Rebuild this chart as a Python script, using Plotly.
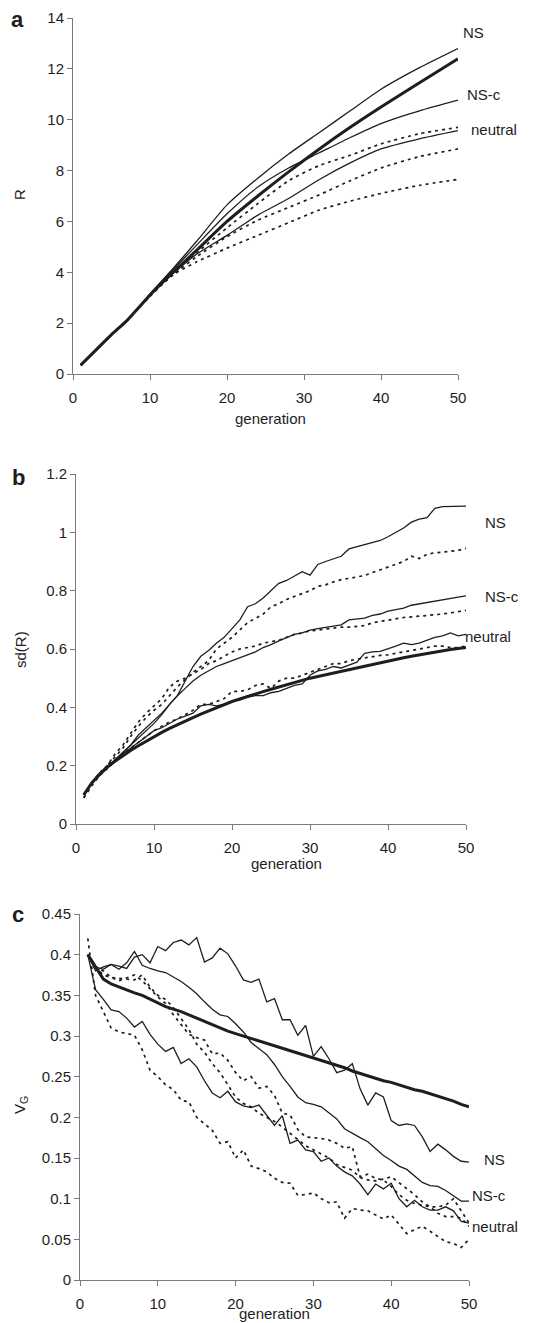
import plotly.graph_objects as go

# ---------------- data ----------------
GEN = list(range(1, 51))

# Panel a: R vs generation (sampled generations)
G_A = [1, 3, 5, 7, 10, 13, 16, 20, 24, 28, 32, 36, 40, 45, 50]
A_NS = [0.35, 0.95, 1.55, 2.1, 3.15, 4.15, 5.2, 6.65, 7.7, 8.65, 9.5, 10.35, 11.2, 12.05, 12.8]
A_NSC = [0.35, 0.95, 1.55, 2.1, 3.15, 4.1, 5.05, 6.3, 7.35, 8.1, 8.7, 9.3, 9.85, 10.35, 10.77]
A_NEU = [0.35, 0.95, 1.55, 2.1, 3.1, 3.95, 4.7, 5.45, 6.25, 6.9, 7.65, 8.3, 8.85, 9.25, 9.57]
A_THICK = [0.35, 0.95, 1.55, 2.1, 3.1, 4.0, 4.85, 6.0, 7.0, 7.95, 8.85, 9.7, 10.5, 11.45, 12.4]
A_DOT1 = [0.35, 0.95, 1.55, 2.1, 3.1, 3.95, 4.75, 5.75, 6.7, 7.6, 8.2, 8.6, 9.05, 9.45, 9.7]
A_DOT2 = [0.35, 0.95, 1.55, 2.1, 3.1, 3.9, 4.6, 5.4, 6.05, 6.55, 7.05, 7.6, 8.1, 8.55, 8.85]
A_DOT3 = [0.35, 0.95, 1.55, 2.1, 3.05, 3.9, 4.4, 4.95, 5.45, 5.95, 6.45, 6.8, 7.1, 7.42, 7.65]

# Panel b: sd(R) vs generation
B_NS = [0.10, 0.14, 0.17, 0.195, 0.22, 0.245, 0.27, 0.295, 0.32, 0.345,
        0.375, 0.41, 0.44, 0.49, 0.54, 0.575, 0.595, 0.62, 0.64, 0.67,
        0.70, 0.745, 0.755, 0.775, 0.80, 0.825, 0.835, 0.85, 0.865, 0.853,
        0.89, 0.90, 0.91, 0.918, 0.943, 0.95, 0.956, 0.965, 0.972, 0.985,
        1.0, 1.015, 1.035, 1.045, 1.05, 1.082, 1.088, 1.088, 1.09, 1.09]
B_NS_DOT = [0.09, 0.14, 0.17, 0.20, 0.23, 0.26, 0.30, 0.335, 0.365, 0.39,
            0.41, 0.44, 0.47, 0.495, 0.52, 0.54, 0.56, 0.60, 0.62, 0.64,
            0.665, 0.69, 0.705, 0.72, 0.745, 0.755, 0.77, 0.78, 0.79, 0.80,
            0.815, 0.82, 0.83, 0.838, 0.842, 0.848, 0.852, 0.862, 0.872, 0.882,
            0.89, 0.90, 0.918, 0.91, 0.925, 0.93, 0.932, 0.935, 0.938, 0.945]
B_NSC = [0.10, 0.14, 0.17, 0.195, 0.22, 0.245, 0.27, 0.305, 0.33, 0.355,
         0.38, 0.41, 0.44, 0.465, 0.49, 0.51, 0.525, 0.54, 0.55, 0.56,
         0.57, 0.58, 0.59, 0.605, 0.615, 0.628, 0.64, 0.65, 0.655, 0.665,
         0.67, 0.675, 0.68, 0.683, 0.70, 0.702, 0.706, 0.715, 0.72, 0.73,
         0.735, 0.74, 0.75, 0.755, 0.76, 0.763, 0.768, 0.775, 0.778, 0.782]
B_NSC_DOT = [0.10, 0.14, 0.175, 0.20, 0.24, 0.27, 0.31, 0.35, 0.38, 0.405,
             0.43, 0.47, 0.49, 0.50, 0.515, 0.53, 0.55, 0.56, 0.575, 0.59,
             0.60, 0.605, 0.61, 0.62, 0.625, 0.63, 0.64, 0.65, 0.655, 0.662,
             0.665, 0.668, 0.672, 0.675, 0.675, 0.677, 0.68, 0.69, 0.695, 0.70,
             0.705, 0.708, 0.71, 0.712, 0.715, 0.718, 0.72, 0.724, 0.728, 0.732]
B_NEU = [0.10, 0.14, 0.165, 0.19, 0.215, 0.24, 0.26, 0.28, 0.30, 0.32,
         0.33, 0.345, 0.36, 0.37, 0.38, 0.405, 0.41, 0.405, 0.41, 0.42,
         0.425, 0.435, 0.44, 0.44, 0.45, 0.455, 0.465, 0.475, 0.48, 0.51,
         0.525, 0.53, 0.54, 0.535, 0.545, 0.555, 0.585, 0.59, 0.592, 0.60,
         0.61, 0.62, 0.615, 0.62, 0.63, 0.64, 0.645, 0.655, 0.645, 0.65]
B_NEU_DOT = [0.09, 0.13, 0.165, 0.19, 0.215, 0.24, 0.26, 0.28, 0.30, 0.32,
             0.335, 0.35, 0.36, 0.375, 0.39, 0.41, 0.41, 0.42, 0.43, 0.455,
             0.455, 0.46, 0.475, 0.48, 0.465, 0.49, 0.50, 0.50, 0.51, 0.52,
             0.53, 0.54, 0.55, 0.55, 0.56, 0.565, 0.57, 0.575, 0.578, 0.58,
             0.585, 0.59, 0.595, 0.60, 0.605, 0.61, 0.61, 0.605, 0.605, 0.61]
B_THICK = [0.10, 0.14, 0.17, 0.195, 0.215, 0.235, 0.252, 0.268, 0.284, 0.30,
           0.314, 0.328, 0.341, 0.353, 0.365, 0.377, 0.388, 0.399, 0.41, 0.42,
           0.429, 0.438, 0.446, 0.454, 0.462, 0.47, 0.478, 0.486, 0.493, 0.50,
           0.506, 0.512, 0.518, 0.524, 0.53, 0.536, 0.542, 0.548, 0.554, 0.56,
           0.565, 0.57, 0.575, 0.58, 0.585, 0.59, 0.594, 0.598, 0.602, 0.605]

# Panel c: V_G vs generation
C_NS = [0.40, 0.385, 0.382, 0.388, 0.386, 0.383, 0.397, 0.40, 0.39, 0.41,
        0.405, 0.415, 0.418, 0.412, 0.421, 0.391, 0.396, 0.408, 0.401, 0.386,
        0.369, 0.366, 0.37, 0.342, 0.346, 0.32, 0.32, 0.301, 0.313, 0.275,
        0.287, 0.272, 0.255, 0.258, 0.266, 0.235, 0.215, 0.23, 0.225, 0.196,
        0.19, 0.192, 0.19, 0.176, 0.158, 0.167, 0.16, 0.152, 0.146, 0.145]
C_NSC = [0.40, 0.38, 0.385, 0.388, 0.382, 0.39, 0.404, 0.387, 0.383, 0.38,
         0.378, 0.373, 0.367, 0.36, 0.352, 0.342, 0.333, 0.326, 0.324, 0.315,
         0.305, 0.292, 0.285, 0.277, 0.265, 0.25, 0.238, 0.225, 0.218, 0.216,
         0.213, 0.205, 0.198, 0.186, 0.18, 0.175, 0.17, 0.162, 0.153, 0.147,
         0.14, 0.136, 0.128, 0.12, 0.116, 0.115, 0.11, 0.103, 0.097, 0.097]
C_NEU = [0.40, 0.357, 0.345, 0.332, 0.33, 0.322, 0.311, 0.318, 0.302, 0.29,
         0.281, 0.286, 0.266, 0.272, 0.262, 0.245, 0.23, 0.224, 0.232, 0.219,
         0.214, 0.212, 0.215, 0.202, 0.19, 0.202, 0.168, 0.172, 0.16, 0.158,
         0.146, 0.15, 0.14, 0.133, 0.128, 0.118, 0.105, 0.118, 0.112, 0.119,
         0.10, 0.09, 0.098, 0.09, 0.086, 0.086, 0.09, 0.085, 0.072, 0.07]
C_THICK = [0.40, 0.385, 0.37, 0.364, 0.36, 0.357, 0.353, 0.35, 0.345, 0.34,
           0.336, 0.333, 0.33, 0.326, 0.322, 0.318, 0.314, 0.31, 0.306, 0.303,
           0.30, 0.297, 0.294, 0.291, 0.288, 0.285, 0.282, 0.279, 0.276, 0.273,
           0.27, 0.267, 0.264, 0.261, 0.257, 0.254, 0.251, 0.248, 0.245, 0.243,
           0.24, 0.237, 0.234, 0.232, 0.229, 0.226, 0.223, 0.22, 0.216, 0.213]
C_DOT1 = [0.40, 0.385, 0.38, 0.372, 0.368, 0.372, 0.375, 0.368, 0.358, 0.348,
          0.34, 0.326, 0.314, 0.302, 0.298, 0.295, 0.278, 0.279, 0.27, 0.255,
          0.245, 0.25, 0.236, 0.238, 0.227, 0.205, 0.203, 0.185, 0.176, 0.175,
          0.174, 0.172, 0.168, 0.162, 0.164, 0.127, 0.13, 0.125, 0.123, 0.115,
          0.105, 0.098, 0.094, 0.092, 0.09, 0.09, 0.092, 0.1, 0.085, 0.07]
C_DOT2 = [0.40, 0.385, 0.375, 0.372, 0.371, 0.37, 0.369, 0.375, 0.36, 0.35,
          0.345, 0.335, 0.322, 0.308, 0.29, 0.28, 0.266, 0.255, 0.24, 0.225,
          0.217, 0.213, 0.205, 0.2, 0.195, 0.188, 0.18, 0.172, 0.165, 0.16,
          0.155, 0.15, 0.142, 0.138, 0.135, 0.126, 0.123, 0.122, 0.124, 0.127,
          0.12, 0.112, 0.105, 0.096, 0.09, 0.082, 0.078, 0.078, 0.076, 0.066]
C_DOT3 = [0.42, 0.35, 0.33, 0.31, 0.305, 0.303, 0.301, 0.283, 0.258, 0.25,
          0.24, 0.234, 0.221, 0.219, 0.20, 0.192, 0.184, 0.168, 0.17, 0.15,
          0.16, 0.14, 0.137, 0.133, 0.125, 0.12, 0.119, 0.104, 0.105, 0.107,
          0.10, 0.095, 0.096, 0.076, 0.088, 0.086, 0.085, 0.08, 0.075, 0.08,
          0.068, 0.057, 0.062, 0.066, 0.06, 0.053, 0.047, 0.045, 0.04, 0.05]

LABELS = ["NS", "NS-c", "neutral"]

# ---------------- figure ----------------
# The page body has an 8 px default margin, so the figure is drawn 8 px
# smaller and all reference pixel positions are shifted by that amount.
OFF = 8
W, H = 538 - OFF, 1323 - OFF
FONT = "Liberation Sans, Arial, sans-serif"
INK = "#1e1e1e"
AXC = "#7a7a7a"

fig = go.Figure()

def px_x(p):
    return (p - OFF) / W

def px_y(p):
    return 1 - (p - OFF) / H

panels = [
    dict(ax="", xd=[73, 458], yd=[18, 374], yr=[0, 14],
         yt=[0, 2, 4, 6, 8, 10, 12, 14], ytt=["0", "2", "4", "6", "8", "10", "12", "14"]),
    dict(ax="2", xd=[76, 466], yd=[474, 824], yr=[0, 1.2],
         yt=[0, 0.2, 0.4, 0.6, 0.8, 1.0, 1.2], ytt=["0", "0.2", "0.4", "0.6", "0.8", "1", "1.2"]),
    dict(ax="3", xd=[80, 469], yd=[914, 1280], yr=[0, 0.45],
         yt=[0, 0.05, 0.1, 0.15, 0.2, 0.25, 0.3, 0.35, 0.4, 0.45],
         ytt=["0", "0.05", "0.1", "0.15", "0.2", "0.25", "0.3", "0.35", "0.4", "0.45"]),
]

def add(xs, ys, ax, kind):
    if kind == "thin":
        line = dict(color=INK, width=1.3)
    elif kind == "thick":
        line = dict(color=INK, width=3)
    else:
        line = dict(color=INK, width=1.7, dash="3px,4px")
    if ax == "":
        line["shape"] = "spline"
        line["smoothing"] = 0.6
    fig.add_trace(go.Scatter(x=xs, y=ys, mode="lines", line=line,
                             xaxis="x" + ax, yaxis="y" + ax,
                             showlegend=False, hoverinfo="skip"))

# panel a
for ys in (A_DOT1, A_DOT2, A_DOT3):
    add(G_A, ys, "", "dot")
for ys in (A_NS, A_NSC, A_NEU):
    add(G_A, ys, "", "thin")
add(G_A, A_THICK, "", "thick")

# panel b
for ys in (B_NS_DOT, B_NSC_DOT, B_NEU_DOT):
    add(GEN, ys, "2", "dot")
for ys in (B_NS, B_NSC, B_NEU):
    add(GEN, ys, "2", "thin")
add(GEN, B_THICK, "2", "thick")

# panel c
for ys in (C_DOT1, C_DOT2, C_DOT3):
    add(GEN, ys, "3", "dot")
for ys in (C_NS, C_NSC, C_NEU):
    add(GEN, ys, "3", "thin")
add(GEN, C_THICK, "3", "thick")

layout = dict(
    width=W, height=H, margin=dict(l=0, r=0, t=0, b=0, pad=0, autoexpand=False),
    paper_bgcolor="white", plot_bgcolor="white",
    font=dict(family=FONT, size=14, color=INK),
    showlegend=False,
)

for p in panels:
    ax = p["ax"]
    layout["xaxis" + ax] = dict(
        domain=[px_x(p["xd"][0]), px_x(p["xd"][1])],
        anchor="y" + ax, range=[0, 50], automargin=False,
        tickvals=[0, 10, 20, 30, 40, 50],
        ticktext=["0", "10", "20", "30", "40", "50"],
        showgrid=False, zeroline=False, showline=True, linecolor=AXC, linewidth=1,
        ticks="outside", ticklen=5, tickcolor=AXC, tickwidth=1,
        ticklabelstandoff=5,
        tickfont=dict(family=FONT, size=15, color=INK), fixedrange=True,
    )
    layout["yaxis" + ax] = dict(
        domain=[px_y(p["yd"][1]), px_y(p["yd"][0])],
        anchor="x" + ax, range=p["yr"], automargin=False,
        tickvals=p["yt"], ticktext=p["ytt"],
        showgrid=False, zeroline=False, showline=True, linecolor=AXC, linewidth=1,
        ticks="outside", ticklen=5, tickcolor=AXC, tickwidth=1,
        tickfont=dict(family=FONT, size=15, color=INK), fixedrange=True,
    )

fig.update_layout(**layout)

ann = []

def text(t, x, y, size=14, xanchor="left", bold=False, angle=0):
    ann.append(dict(text=("<b>%s</b>" % t) if bold else t,
                    x=px_x(x), y=px_y(y), xref="paper", yref="paper",
                    xanchor=xanchor, yanchor="middle", showarrow=False,
                    textangle=angle, font=dict(family=FONT, size=size, color=INK)))

# panel letters
text("a", 9, 20, size=22, bold=True)
text("b", 10, 478, size=22, bold=True)
text("c", 10, 914, size=22, bold=True)

# axis titles
text("generation", 270, 418, size=15, xanchor="center")
text("generation", 286, 863, size=15, xanchor="center")
text("generation", 274, 1313, size=15, xanchor="center")
text("R", 20, 195, size=15, xanchor="center", angle=-90)
text("sd(R)", 20, 650, size=15, xanchor="center", angle=-90)
text("V<sub>G</sub>", 20, 1105, size=15, xanchor="center", angle=-90)

# curve labels
for lab, (x, y) in zip(LABELS, [(461, 32), (465, 95), (469, 130)]):
    text(lab, x, y, size=15)
for lab, (x, y) in zip(LABELS, [(483, 522), (483, 596), (463, 637)]):
    text(lab, x, y, size=15)
for lab, (x, y) in zip(LABELS, [(482, 1159), (470, 1195), (470, 1226)]):
    text(lab, x, y, size=15)

fig.update_layout(annotations=ann)
fig.write_html("out.html")
